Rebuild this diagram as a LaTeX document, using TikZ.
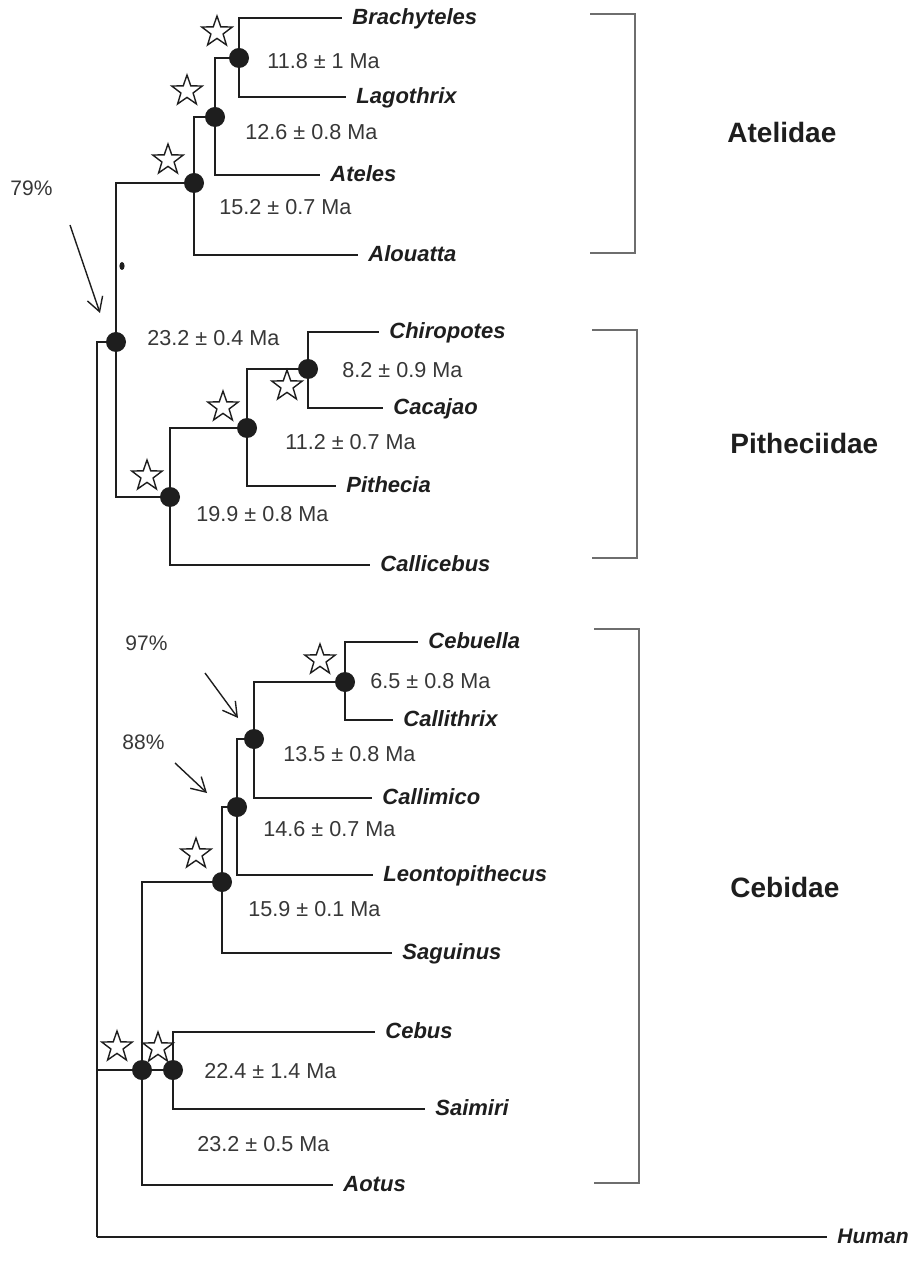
\documentclass[tikz,border=0pt]{standalone}
\usepackage{fontspec}
\setmainfont{Liberation Sans}
\usetikzlibrary{shapes.geometric, arrows.meta, positioning}
\definecolor{inkgray}{RGB}{30,30,30}
\definecolor{agegray}{RGB}{55,55,55}
\definecolor{bracketgray}{RGB}{110,110,110}

\begin{document}
\begin{tikzpicture}[
    x=0.5pt, y=-0.5pt,
    branch/.style={line width=1.3pt, draw=inkgray},
    dot/.style={circle, fill=inkgray, inner sep=0pt, minimum size=10pt},
    taxon/.style={anchor=west, inner xsep=5pt, inner ysep=0pt, text height=1.6ex, text depth=0.3ex, font=\fontsize{11}{13}\selectfont\bfseries\itshape, text=inkgray},
    age/.style={anchor=west, inner sep=0pt, text height=1.6ex, text depth=0.3ex, font=\fontsize{10.8}{12}\selectfont, text=agegray},
    family/.style={anchor=west, inner sep=0pt, font=\fontsize{14}{16}\selectfont\bfseries, text=inkgray},
    support/.style={anchor=west, inner sep=0pt, font=\fontsize{10.5}{12}\selectfont, text=agegray},
    pointer/.style={-{Straight Barb[length=7pt, width=8pt]}, line width=0.7pt, draw=inkgray},
    sig/.style={star, star points=5, star point ratio=2.5, draw=inkgray, fill=white, line width=0.7pt, minimum size=16pt, inner sep=0pt},
    bracket/.style={line width=0.7pt, draw=bracketgray}
]
\useasboundingbox (0,0) rectangle (922,1277);

% Root
\coordinate (root) at (97,1237);
\node[dot] (platy) at (116,342) {};

% Atelidae
\node[dot] (ate1) at (239,58) {};
\node[dot] (ate2) at (215,117) {};
\node[dot] (ate3) at (194,183) {};
\node[taxon] (brachyteles) at (342,18) {Brachyteles};
\node[taxon] (lagothrix) at (346,97) {Lagothrix};
\node[taxon] (ateles) at (320,175) {Ateles};
\node[taxon] (alouatta) at (358,255) {Alouatta};

% Pitheciidae
\node[dot] (pit1) at (308,369) {};
\node[dot] (pit2) at (247,428) {};
\node[dot] (pit3) at (170,497) {};
\node[taxon] (chiropotes) at (379,332) {Chiropotes};
\node[taxon] (cacajao) at (383,408) {Cacajao};
\node[taxon] (pithecia) at (336,486) {Pithecia};
\node[taxon] (callicebus) at (370,565) {Callicebus};

% Cebidae
\node[dot] (ceb1) at (345,682) {};
\node[dot] (ceb2) at (254,739) {};
\node[dot] (ceb3) at (237,807) {};
\node[dot] (ceb4) at (222,882) {};
\node[dot] (cebroot) at (142,1070) {};
\node[dot] (cebsai) at (173,1070) {};
\node[taxon] (cebuella) at (418,642) {Cebuella};
\node[taxon] (callithrix) at (393,720) {Callithrix};
\node[taxon] (callimico) at (372,798) {Callimico};
\node[taxon] (leontopithecus) at (373,875) {Leontopithecus};
\node[taxon] (saguinus) at (392,953) {Saguinus};
\node[taxon] (cebus) at (375,1032) {Cebus};
\node[taxon] (saimiri) at (425,1109) {Saimiri};
\node[taxon] (aotus) at (333,1185) {Aotus};

% Outgroup
\node[taxon, font=\fontsize{10.5}{12}\selectfont\bfseries\itshape] (human) at (827,1237) {Human};

% Branches
\draw[branch] (ate1) |- (brachyteles);
\draw[branch] (ate1) |- (lagothrix);
\draw[branch] (ate2) |- (ate1);
\draw[branch] (ate2) |- (ateles);
\draw[branch] (ate3) |- (ate2);
\draw[branch] (ate3) |- (alouatta);
\draw[branch] (platy) |- (ate3);
\draw[branch] (platy) |- (pit3);
\draw[branch] (pit3) |- (pit2);
\draw[branch] (pit3) |- (callicebus);
\draw[branch] (pit2) |- (pit1);
\draw[branch] (pit2) |- (pithecia);
\draw[branch] (pit1) |- (chiropotes);
\draw[branch] (pit1) |- (cacajao);
\draw[branch] (root) |- (platy);
\draw[branch] (root) |- (cebroot);
\draw[branch] (root) -- (human);
\draw[branch] (cebroot) |- (ceb4);
\draw[branch] (cebroot) -- (cebsai);
\draw[branch] (cebroot) |- (aotus);
\draw[branch] (cebsai) |- (cebus);
\draw[branch] (cebsai) |- (saimiri);
\draw[branch] (ceb4) |- (ceb3);
\draw[branch] (ceb4) |- (saguinus);
\draw[branch] (ceb3) |- (ceb2);
\draw[branch] (ceb3) |- (leontopithecus);
\draw[branch] (ceb2) |- (ceb1);
\draw[branch] (ceb2) |- (callimico);
\draw[branch] (ceb1) |- (cebuella);
\draw[branch] (ceb1) |- (callithrix);
\fill[inkgray] (122,266) ellipse [x radius=1.3pt, y radius=2pt];

% Divergence times
\node[age] (t1) at (267,62) {11.8 ± 1 Ma};
\node[age] (t2) at (245,133) {12.6 ± 0.8 Ma};
\node[age] (t3) at (219,208) {15.2 ± 0.7 Ma};
\node[age] (t4) at (147,339) {23.2 ± 0.4 Ma};
\node[age] (t5) at (342,371) {8.2 ± 0.9 Ma};
\node[age] (t6) at (285,443) {11.2 ± 0.7 Ma};
\node[age] (t7) at (196,515) {19.9 ± 0.8 Ma};
\node[age] (t8) at (370,682) {6.5 ± 0.8 Ma};
\node[age] (t9) at (283,755) {13.5 ± 0.8 Ma};
\node[age] (t10) at (263,830) {14.6 ± 0.7 Ma};
\node[age] (t11) at (248,910) {15.9 ± 0.1 Ma};
\node[age] (t12) at (204,1072) {22.4 ± 1.4 Ma};
\node[age] (t13) at (197,1145) {23.2 ± 0.5 Ma};

% Stars
\node[sig] (s1) at (217,32) {};
\node[sig] (s2) at (187,91) {};
\node[sig] (s3) at (168,160) {};
\node[sig] (s4) at (287,386) {};
\node[sig] (s5) at (223,407) {};
\node[sig] (s6) at (147,476) {};
\node[sig] (s7) at (320,660) {};
\node[sig] (s8) at (196,854) {};
\node[sig] (s9) at (117,1047) {};
\node[sig] (s10) at (158,1048) {};

% Bootstrap support
\node[support] (pct79) at (10,188) {79\%};
\node[support] (pct97) at (125,643) {97\%};
\node[support] (pct88) at (122,742) {88\%};
\coordinate (from79) at (70,225);
\coordinate (to79) at (100,313);
\coordinate (from97) at (205,673);
\coordinate (to97) at (238,718);
\coordinate (from88) at (175,763);
\coordinate (to88) at (207,793);
\draw[pointer] (from79) -- (to79);
\draw[pointer] (from97) -- (to97);
\draw[pointer] (from88) -- (to88);

% Families
\draw[bracket] (590,14) -- (635,14) -- (635,253) -- (590,253);
\draw[bracket] (592,330) -- (637,330) -- (637,558) -- (592,558);
\draw[bracket] (594,629) -- (639,629) -- (639,1183) -- (594,1183);
\node[family] (atelidae) at (727,132) {Atelidae};
\node[family] (pitheciidae) at (730,443) {Pitheciidae};
\node[family] (cebidae) at (730,887) {Cebidae};
\end{tikzpicture}
\end{document}
